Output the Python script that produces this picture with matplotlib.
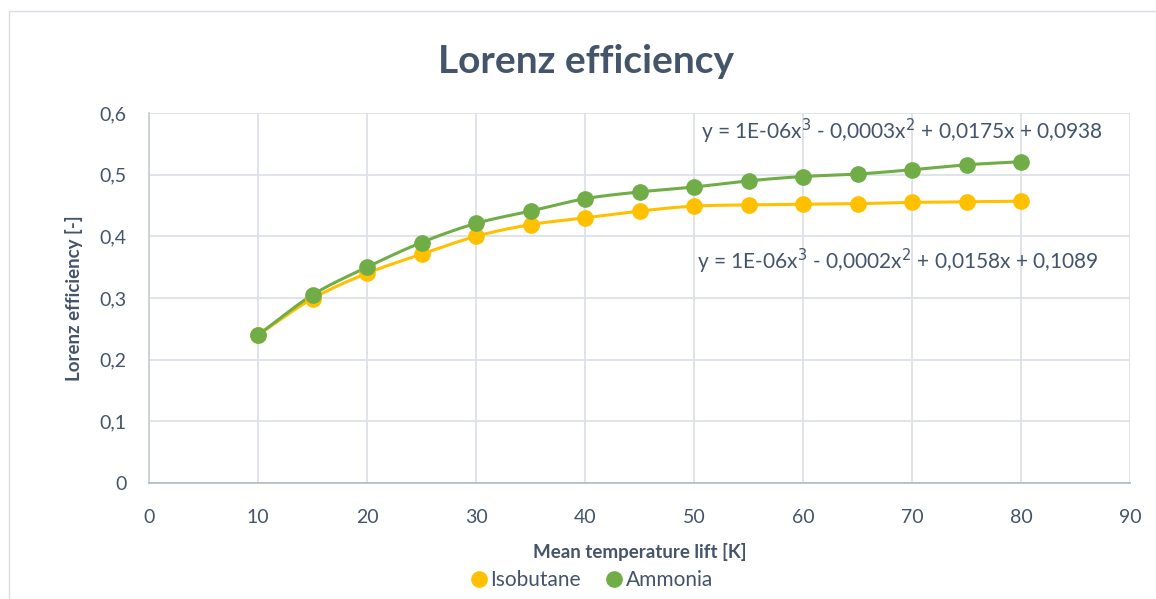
import matplotlib
matplotlib.use("Agg")
import matplotlib.pyplot as plt
import numpy as np
from matplotlib.lines import Line2D
from matplotlib.patches import Rectangle

plt.rcParams['font.family'] = ['Lato', 'DejaVu Sans']

# data
temp_lift = [10, 15, 20, 25, 30, 35, 40, 45, 50, 55, 60, 65, 70, 75, 80]
isobutane = [0.240, 0.299, 0.340, 0.371, 0.400, 0.419, 0.430, 0.441, 0.449,
             0.451, 0.452, 0.453, 0.455, 0.456, 0.457]
ammonia = [0.240, 0.305, 0.350, 0.390, 0.421, 0.441, 0.461, 0.472, 0.480,
           0.490, 0.497, 0.501, 0.508, 0.516, 0.521]

eq_ammonia = "y = 1E-06x$^3$ - 0,0003x$^2$ + 0,0175x + 0,0938"
eq_isobutane = "y = 1E-06x$^3$ - 0,0002x$^2$ + 0,0158x + 0,1089"

yellow = '#FFC000'
green = '#70AD47'
txt = '#44546A'
grid = '#DDE1E8'


def smooth(x, y, n=20):
    # catmull-rom style smoothing, like Excel's smoothed lines
    x = np.asarray(x, float)
    y = np.asarray(y, float)
    px = np.concatenate([[2*x[0]-x[1]], x, [2*x[-1]-x[-2]]])
    py = np.concatenate([[2*y[0]-y[1]], y, [2*y[-1]-y[-2]]])
    xs, ys = [], []
    t = np.linspace(0, 1, n)
    for i in range(1, len(px)-2):
        for p, out in ((px, xs), (py, ys)):
            p0, p1, p2, p3 = p[i-1], p[i], p[i+1], p[i+2]
            out.extend(0.5*((2*p1) + (-p0+p2)*t + (2*p0-5*p1+4*p2-p3)*t**2
                            + (-p0+3*p1-3*p2+p3)*t**3))
    return xs, ys


fig = plt.figure(figsize=(11.56, 5.99), dpi=100)
ax = fig.add_axes([149/1156, 1-483/599, (1130-149)/1156, (483-113)/599])

# outer chart border
fig.patches.append(Rectangle((9/1156, -0.1), 1.2, (599-11)/599+0.1,
                             transform=fig.transFigure, fill=False,
                             ec='#D9DDE3', lw=1))

for vals, col in ((isobutane, yellow), (ammonia, green)):
    sx, sy = smooth(temp_lift, vals)
    ax.plot(sx, sy, color=col, lw=2.2, zorder=3)
    ax.plot(temp_lift, vals, 'o', color=col, ms=11, zorder=4)

ax.set_xlim(0, 90)
ax.set_ylim(0, 0.6)
ax.set_xticks(np.arange(0, 91, 10))
ax.set_yticks(np.arange(0, 0.61, 0.1))
ax.set_yticklabels(['0'] + ['0,%d' % i for i in range(1, 7)])
ax.grid(True, color=grid, lw=1.3)
ax.set_axisbelow(True)
for s in ['top', 'right']:
    ax.spines[s].set_visible(False)
ax.spines['left'].set_color('#C9CED8')
ax.spines['bottom'].set_color('#B4BCCB')
ax.spines['left'].set_linewidth(1.3)
ax.spines['bottom'].set_linewidth(1.3)
ax.tick_params(length=0, labelsize=14, colors=txt)
ax.tick_params(axis='x', pad=19)
ax.tick_params(axis='y', pad=16)

ax.set_xlabel('Mean temperature lift [K]', fontsize=13.5, fontweight='bold',
              color=txt, labelpad=12)
ax.set_ylabel('Lorenz efficiency [-]', fontsize=13.5, fontweight='bold',
              color=txt, labelpad=12)

fig.text(0.507, 0.898, 'Lorenz efficiency', ha='center', va='center',
         fontsize=28, fontweight='bold', color=txt)

ax.text(50.6, 0.5705, eq_ammonia, fontsize=15, color=txt, va='center')
ax.text(50.3, 0.360, eq_isobutane, fontsize=15, color=txt, va='center')

handles = [Line2D([], [], ls='', marker='o', color=yellow, ms=11),
           Line2D([], [], ls='', marker='o', color=green, ms=11)]
fig.legend(handles, ['Isobutane', 'Ammonia'], loc='center',
           bbox_to_anchor=(0.511, 0.031), ncol=2, frameon=False,
           fontsize=15, labelcolor=txt, handletextpad=0.05,
           columnspacing=1.1, handlelength=1.0)

fig.savefig('out.png', dpi=100)
